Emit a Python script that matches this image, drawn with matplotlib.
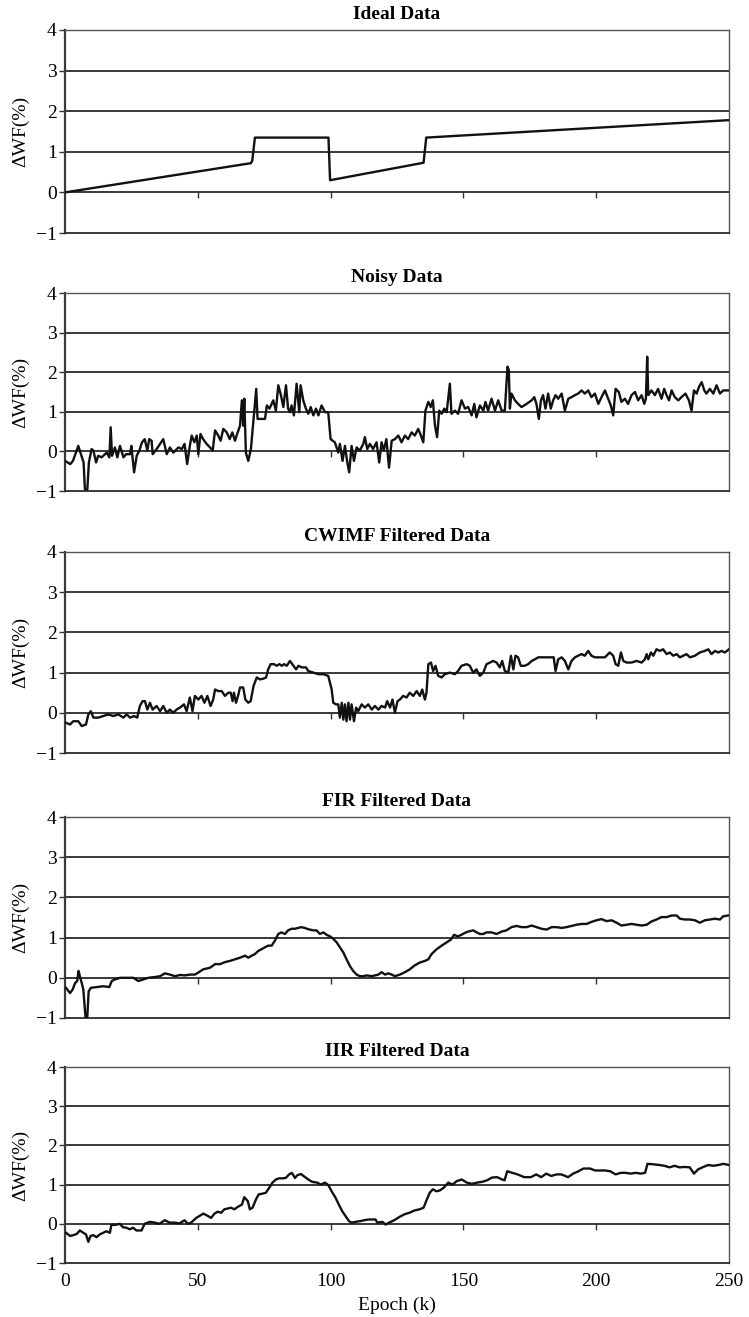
import matplotlib
matplotlib.use("Agg")
import matplotlib.pyplot as plt

plt.rcParams['font.family'] = ['Liberation Serif', 'DejaVu Serif']
plt.rcParams['axes.unicode_minus'] = True

# ---- data (epoch, delta WF %) ----
ideal_x = [0, 70, 70.5, 71.5, 99.2, 99.8, 135, 136, 250]
ideal_y = [0.0, 0.72, 0.78, 1.35, 1.35, 0.30, 0.73, 1.35, 1.78]

noisy_x = [0, 2, 3, 5, 6, 7, 7.5, 8.4, 9, 10, 10.7, 11.7, 12.5, 13.8, 15.7, 16.7, 17.2, 17.7,
           18.8, 19.7, 20.7, 22, 23, 24.5, 25, 26, 27, 28, 29, 30, 31, 31.7, 32.6, 33, 34.5,
           35.8, 37, 38.3, 39.5, 40.8, 42.7, 44, 45, 46, 47, 47.7, 48.7, 49.6, 50.2, 51, 52,
           53.3, 54.6, 55.6, 56.5, 57.7, 58.6, 59.6, 60.9, 62, 63, 64, 64.6, 65.9, 66.6, 67.1,
           67.5, 68.1, 69, 70, 71, 72, 72.5, 73.4, 75.3, 76, 77, 78.4, 79.4, 80.3, 81.3, 82.2,
           83.2, 84, 84.7, 85.3, 86.2, 87.2, 88.2, 88.7, 89.7, 90.7, 91.6, 92.5, 93.5, 94.5,
           95.4, 96.6, 97.9, 99.1, 100, 101.6, 102.9, 103.5, 104.5, 105.4, 106.3, 107, 107.9,
           108.8, 109.8, 111, 112.3, 112.9, 113.8, 114.8, 116, 117.3, 118.3, 119.2, 120, 121,
           122, 123, 124.2, 125.5, 126.7, 128, 129.2, 130.5, 131.7, 133, 134, 134.9, 135.7,
           136.8, 137.7, 138.5, 139.3, 140.1, 140.9, 141.8, 142.8, 143.7, 144.9, 145.5, 146.8,
           148, 149.3, 150.6, 151.8, 153.1, 154.1, 154.9, 156.2, 157.5, 158.3, 159.3, 160.6,
           161.9, 163.1, 164.4, 165.6, 166.6, 167.1, 167.5, 168.1, 169.4, 170.6, 171.9, 173.8,
           175.7, 176.7, 177.5, 178.4, 179.2, 180, 180.9, 181.9, 182.9, 183.8, 184.7, 185.7,
           187, 188.2, 189.5, 190.7, 192, 193.2, 194.5, 195.7, 197, 198.2, 199.5, 200.8, 202,
           203.3, 204.5, 205.5, 206.4, 207.3, 208.5, 209.5, 210.8, 212, 213.3, 214.6, 215.8,
           217.1, 218.1, 218.7, 219.2, 219.6, 220.8, 222.1, 223.3, 224.6, 225.6, 226.5, 227.4,
           228.4, 229.6, 230.9, 232.1, 233.6, 234.9, 235.9, 236.8, 237.8, 238.7, 239.7, 240.7,
           241.5, 242.8, 244.1, 245.3, 246.6, 247.8, 249.7]
noisy_y = [-0.24, -0.32, -0.24, 0.14, -0.07, -0.28, -0.96, -0.96, -0.28, 0.06, 0.02, -0.28,
           -0.11, -0.15, -0.03, -0.15, 0.61, -0.11, 0.10, -0.15, 0.14, -0.15, -0.07, -0.07,
           0.14, -0.53, -0.11, 0.02, 0.23, 0.31, 0.02, 0.31, 0.27, -0.07, 0.06, 0.19, 0.31,
           -0.07, 0.10, -0.03, 0.10, 0.06, 0.19, -0.32, 0.14, 0.40, 0.23, 0.40, -0.07, 0.44,
           0.31, 0.19, 0.10, 0.02, 0.53, 0.40, 0.27, 0.57, 0.48, 0.31, 0.48, 0.27, 0.40, 0.65,
           1.29, 0.65, 1.33, -0.03, -0.24, 0.06, 0.82, 1.58, 0.82, 0.82, 0.82, 1.16, 1.08,
           1.29, 1.03, 1.67, 1.42, 1.12, 1.67, 1.08, 0.99, 1.16, 0.91, 1.71, 0.99, 1.67, 1.29,
           1.08, 0.95, 1.12, 0.91, 1.08, 0.91, 1.16, 0.99, 0.99, 0.31, 0.23, -0.03, 0.19,
           -0.24, 0.14, -0.28, -0.53, 0.14, -0.24, 0.10, 0.02, 0.19, 0.36, 0.06, 0.19, 0.06,
           0.23, -0.28, 0.23, 0.02, 0.31, -0.41, 0.27, 0.31, 0.40, 0.23, 0.40, 0.31, 0.48,
           0.40, 0.57, 0.40, 0.23, 1.03, 1.25, 1.12, 1.29, 0.65, 0.36, 1.03, 0.95, 1.08, 0.99,
           1.71, 0.95, 1.03, 0.95, 1.29, 1.08, 1.12, 0.91, 1.20, 0.86, 1.16, 1.03, 1.25, 1.03,
           1.33, 1.03, 1.29, 1.03, 1.03, 2.14, 2.05, 1.08, 1.46, 1.29, 1.20, 1.12, 1.20, 1.29,
           1.37, 1.20, 0.82, 1.29, 1.42, 1.08, 1.46, 1.08, 1.29, 1.42, 1.33, 1.46, 1.03, 1.33,
           1.37, 1.42, 1.46, 1.54, 1.46, 1.54, 1.37, 1.46, 1.20, 1.37, 1.54, 1.33, 1.16, 0.91,
           1.58, 1.50, 1.25, 1.33, 1.20, 1.42, 1.50, 1.29, 1.42, 1.20, 1.33, 2.39, 1.42, 1.54,
           1.42, 1.58, 1.33, 1.58, 1.42, 1.29, 1.54, 1.37, 1.29, 1.37, 1.46, 1.29, 1.03, 1.54,
           1.46, 1.63, 1.75, 1.54, 1.46, 1.58, 1.46, 1.67, 1.46, 1.54, 1.54]

cwimf_x = [0.4, 1.9, 3.1, 5, 6.3, 7.9, 8.8, 9.7, 10.7, 12.5, 14.4, 16.3, 18.2, 20.1, 22, 23.2,
           24.5, 26, 27.2, 28.2, 29.2, 30.1, 31, 32, 33, 34.5, 35.8, 37, 38.3, 39.5, 40.8, 42,
           43.3, 44.8, 45.8, 47, 48, 48.9, 50.2, 51.4, 52.5, 53.6, 54.8, 55.8, 56.5, 57.7, 59,
           60.2, 61.5, 62.4, 63.1, 63.6, 64.4, 65.3, 65.9, 67.1, 67.9, 69, 69.9, 71, 72.2, 73.4,
           74.7, 75.7, 76.5, 77.4, 78.7, 79.7, 80.7, 81.6, 82.5, 83.5, 84.7, 86, 87, 87.9, 89.1,
           90.7, 91.6, 93.5, 95.4, 97.3, 99.1, 100.4, 101, 102, 102.9, 103.5, 104.2, 104.8,
           105.4, 106, 106.7, 107.3, 107.9, 108.8, 109.6, 110.4, 111.7, 112.9, 114.2, 115.5,
           116.7, 118, 119.2, 120.5, 121.3, 122.4, 123.3, 124.2, 125.2, 126.1, 127.3, 128.6,
           129.8, 131.1, 132.4, 133.6, 134.5, 135.5, 136.1, 136.8, 137.8, 138.6, 139.5, 140.5,
           141.8, 143, 144.9, 146.8, 148, 149.3, 151.2, 152.4, 153.7, 154.9, 156.2, 157.5,
           158.7, 160, 161.2, 162.5, 163.7, 164.6, 165.6, 166.9, 167.9, 168.8, 169.6, 170.6,
           171.6, 173.1, 174.4, 175.7, 176.9, 178.2, 180, 181.9, 183.2, 184, 184.7, 185.7, 187,
           188.2, 189.5, 190.7, 192, 193.2, 194.5, 195.7, 197, 198.2, 199.5, 201.4, 203.3,
           205.1, 206.4, 207.3, 208.3, 209.3, 210.2, 211.4, 213.3, 215.2, 217.1, 218.3, 219,
           219.6, 220.6, 221.5, 222.7, 224, 225.2, 226.5, 227.7, 229, 230.3, 231.5, 232.8, 234,
           235.3, 237.2, 239, 240.9, 242.2, 243.4, 244.7, 245.9, 247.2, 248.4, 250]
cwimf_y = [-0.25, -0.29, -0.21, -0.21, -0.33, -0.29, -0.04, 0.04, -0.12, -0.12, -0.08, -0.04,
           -0.08, -0.04, -0.12, -0.04, -0.12, -0.08, -0.12, 0.17, 0.29, 0.29, 0.08, 0.25, 0.08,
           0.17, 0.04, 0.17, 0.00, 0.08, 0.00, 0.08, 0.13, 0.21, 0.04, 0.38, 0.04, 0.42, 0.33,
           0.42, 0.25, 0.42, 0.17, 0.33, 0.58, 0.54, 0.54, 0.42, 0.50, 0.50, 0.29, 0.50, 0.25,
           0.46, 0.63, 0.63, 0.33, 0.25, 0.29, 0.67, 0.88, 0.83, 0.85, 0.88, 1.08, 1.21, 1.21,
           1.17, 1.21, 1.17, 1.21, 1.17, 1.29, 1.17, 1.08, 1.17, 1.13, 1.13, 1.04, 1.00, 0.96,
           0.96, 0.92, 0.58, 0.25, 0.21, 0.21, -0.12, 0.25, -0.17, 0.21, -0.21, 0.25, -0.17,
           0.21, -0.21, 0.13, 0.04, 0.21, 0.13, 0.21, 0.08, 0.17, 0.08, 0.17, 0.13, 0.29, 0.13,
           0.33, 0.00, 0.29, 0.33, 0.42, 0.38, 0.50, 0.42, 0.54, 0.42, 0.58, 0.33, 0.50, 1.21,
           1.25, 1.04, 1.17, 0.92, 0.88, 0.96, 1.00, 0.96, 1.04, 1.17, 1.21, 1.17, 1.00, 1.08,
           0.92, 1.00, 1.21, 1.25, 1.29, 1.25, 1.13, 1.29, 1.04, 1.00, 1.42, 1.08, 1.42, 1.38,
           1.17, 1.17, 1.21, 1.29, 1.33, 1.38, 1.38, 1.38, 1.38, 1.38, 1.04, 1.33, 1.38, 1.29,
           1.08, 1.29, 1.38, 1.42, 1.46, 1.42, 1.54, 1.42, 1.38, 1.38, 1.38, 1.50, 1.42, 1.21,
           1.17, 1.50, 1.29, 1.25, 1.25, 1.29, 1.25, 1.33, 1.46, 1.33, 1.50, 1.42, 1.58, 1.54,
           1.58, 1.46, 1.50, 1.42, 1.46, 1.38, 1.42, 1.46, 1.38, 1.42, 1.50, 1.54, 1.58, 1.46,
           1.54, 1.50, 1.54, 1.50, 1.58]

fir_x = [0.4, 1.9, 2.9, 3.8, 4.6, 5.1, 5.6, 6.3, 6.9, 7.7, 8.4, 8.9, 9.7, 11.9, 14.4, 16.7,
         17.6, 18.8, 20.7, 23.2, 25.7, 27.6, 29.5, 31.4, 33.9, 35.8, 37.6, 39.5, 41.4, 43.3,
         45.2, 47, 48.9, 50.2, 52, 54.6, 56.5, 58.4, 60.2, 62.1, 64, 65.9, 67.8, 69, 70.3,
         71.5, 72.8, 74, 75.3, 76.5, 77.8, 79, 80.3, 81.5, 82.8, 84, 85.3, 86.5, 87.8, 89,
         90.3, 91.5, 93.5, 94.7, 96, 97.3, 98.5, 99.8, 101, 102.3, 103.5, 104.8, 106, 107.3,
         108.5, 109.8, 111, 112.3, 113.6, 115.5, 116.7, 118, 119.2, 120.5, 121.7, 123, 124.2,
         126.1, 128, 129.8, 131.7, 133.6, 135.5, 136.8, 138, 139.9, 141.8, 143.7, 145.3,
         146.5, 147.8, 149.3, 150.6, 151.8, 153.7, 155, 156.2, 157.5, 158.7, 160.6, 162.5,
         164.4, 166.2, 168.1, 170, 171.9, 173.8, 175.7, 177.5, 179.4, 181.3, 183.2, 185.1,
         187, 188.8, 190.7, 192.6, 194.5, 196.4, 198.2, 200.1, 202, 203.9, 205.8, 207.7,
         209.5, 211.4, 213.3, 215.2, 217.1, 219, 220.8, 222.7, 224.6, 226.5, 228.4, 230.3,
         231.5, 233.4, 235.3, 237.2, 239, 240.9, 242.8, 244.7, 246.6, 247.8, 249.7]
fir_y = [-0.25, -0.38, -0.29, -0.13, -0.08, 0.17, 0.04, -0.13, -0.29, -0.97, -0.97, -0.34,
         -0.25, -0.23, -0.21, -0.23, -0.08, -0.04, 0.00, 0.00, 0.00, -0.08, -0.04, 0.00, 0.02,
         0.04, 0.11, 0.08, 0.04, 0.07, 0.06, 0.08, 0.08, 0.13, 0.21, 0.25, 0.34, 0.34, 0.39,
         0.42, 0.46, 0.50, 0.55, 0.50, 0.55, 0.59, 0.67, 0.71, 0.76, 0.80, 0.80, 0.92, 1.09,
         1.13, 1.09, 1.18, 1.22, 1.22, 1.24, 1.26, 1.24, 1.21, 1.18, 1.18, 1.09, 1.13, 1.07,
         1.03, 0.97, 0.88, 0.76, 0.63, 0.46, 0.29, 0.17, 0.08, 0.04, 0.04, 0.06, 0.04, 0.06,
         0.08, 0.14, 0.08, 0.11, 0.08, 0.04, 0.08, 0.14, 0.21, 0.31, 0.38, 0.42, 0.46, 0.59,
         0.71, 0.80, 0.88, 0.95, 1.07, 1.03, 1.07, 1.12, 1.15, 1.18, 1.13, 1.09, 1.09, 1.13,
         1.13, 1.09, 1.15, 1.18, 1.26, 1.29, 1.26, 1.26, 1.30, 1.26, 1.22, 1.20, 1.26, 1.26,
         1.24, 1.26, 1.29, 1.32, 1.34, 1.34, 1.39, 1.43, 1.46, 1.41, 1.43, 1.37, 1.30, 1.32,
         1.34, 1.32, 1.30, 1.32, 1.40, 1.45, 1.51, 1.51, 1.55, 1.55, 1.47, 1.45, 1.45, 1.43,
         1.37, 1.43, 1.45, 1.47, 1.45, 1.53, 1.55]

iir_x = [0.4, 1.9, 3.1, 4.4, 5.6, 6.9, 7.9, 8.8, 9.6, 10.6, 11.9, 13.1, 14.4, 15.6, 16.9, 17.5,
         18.8, 20.6, 21.9, 23.1, 24.4, 25.6, 26.9, 28.8, 30, 31.9, 33.8, 35.6, 37.5, 39.4,
         41.3, 43.1, 45, 46.3, 47.5, 49.4, 50.6, 52.1, 53.8, 55, 56.3, 57.5, 58.8, 60, 61.3,
         62.5, 63.8, 65, 66.6, 67.5, 68.8, 69.6, 70.6, 71.9, 72.9, 74.4, 75.6, 76.9, 78.1,
         79.4, 80.6, 81.9, 83.1, 84.4, 85.4, 86.6, 87.5, 88.8, 90, 91.6, 93.1, 95, 96.3, 97.9,
         99.1, 100.4, 101.9, 103.1, 104.4, 105.6, 106.9, 107.9, 109.4, 111.3, 112.5, 114.4,
         116.9, 117.6, 119.5, 120.7, 122, 123.9, 125.8, 127.7, 129.6, 131.6, 133.5, 135, 136,
         137.3, 138.5, 139.8, 141.1, 142.6, 144.3, 145.9, 147.5, 149.4, 151.3, 153.2, 155.1,
         157, 158.9, 160.8, 162.7, 164.6, 165.5, 166.5, 168.4, 170.4, 172.9, 175.4, 177.4,
         179.3, 181.2, 183.1, 185, 186.9, 189.4, 191.3, 193.3, 195.2, 197.7, 199.6, 201.5,
         203.4, 205.3, 207.3, 209.2, 211.1, 213, 214.9, 216.8, 218.4, 219.3, 221.2, 223.8,
         225.7, 227.6, 229.5, 231.4, 233.3, 235.2, 236.8, 238.4, 240.3, 242.2, 244.1, 246,
         247.9, 250]
iir_y = [-0.23, -0.31, -0.29, -0.26, -0.17, -0.23, -0.27, -0.46, -0.31, -0.29, -0.34, -0.27,
         -0.23, -0.19, -0.23, -0.02, -0.03, 0.00, -0.09, -0.10, -0.14, -0.10, -0.17, -0.17,
         0.00, 0.05, 0.03, 0.00, 0.09, 0.03, 0.03, 0.01, 0.09, 0.00, 0.03, 0.15, 0.20, 0.26,
         0.20, 0.15, 0.26, 0.31, 0.28, 0.37, 0.39, 0.41, 0.37, 0.43, 0.49, 0.68, 0.58, 0.37,
         0.41, 0.62, 0.75, 0.77, 0.79, 0.92, 1.05, 1.13, 1.16, 1.16, 1.17, 1.26, 1.30, 1.17,
         1.24, 1.27, 1.21, 1.13, 1.07, 1.05, 1.00, 1.05, 0.99, 0.83, 0.66, 0.49, 0.32, 0.20,
         0.07, 0.03, 0.05, 0.07, 0.09, 0.11, 0.11, 0.03, 0.05, -0.02, 0.03, 0.09, 0.17, 0.24,
         0.28, 0.34, 0.37, 0.41, 0.58, 0.79, 0.88, 0.83, 0.85, 0.92, 1.05, 1.00, 1.09, 1.13,
         1.05, 1.02, 1.05, 1.07, 1.11, 1.18, 1.19, 1.13, 1.11, 1.34, 1.30, 1.26, 1.19, 1.19,
         1.26, 1.19, 1.28, 1.22, 1.26, 1.26, 1.19, 1.28, 1.34, 1.41, 1.41, 1.36, 1.36, 1.36,
         1.34, 1.26, 1.30, 1.30, 1.28, 1.30, 1.28, 1.30, 1.53, 1.52, 1.50, 1.48, 1.44, 1.48,
         1.44, 1.45, 1.44, 1.28, 1.39, 1.45, 1.50, 1.48, 1.50, 1.53, 1.50]

titles = ["Ideal Data", "Noisy Data", "CWIMF Filtered Data", "FIR Filtered Data",
          "IIR Filtered Data"]
series = [(ideal_x, ideal_y), (noisy_x, noisy_y), (cwimf_x, cwimf_y), (fir_x, fir_y),
          (iir_x, iir_y)]
y_ticks = [-1, 0, 1, 2, 3, 4]
x_ticks = [0, 50, 100, 150, 200, 250]

# panel extents in pixels (top, bottom)
W, H = 749, 1317
panels = [(30, 233), (293, 491), (552, 753), (817, 1018), (1067, 1263)]
left_px, right_px = 65, 729
FS = 14

fig = plt.figure(figsize=(W / 100, H / 100), dpi=100)

for i, ((top, bot), title, (xs, ys)) in enumerate(zip(panels, titles, series)):
    ax = fig.add_axes([left_px / W, 1 - bot / H, (right_px - left_px) / W, (bot - top) / H])
    ax.set_xlim(0, 250)
    ax.set_ylim(-1, 4)
    for v in y_ticks[1:]:
        ax.axhline(v, color='#2a2a2a', lw=1.3, zorder=1)
    ax.plot(xs, ys, color='#111111', lw=1.7, zorder=3)

    for side in ('top', 'right'):
        ax.spines[side].set_color('#555555')
        ax.spines[side].set_linewidth(1.0)
    ax.spines['left'].set_color('#3a3a3a')
    ax.spines['left'].set_linewidth(1.6)
    ax.spines['bottom'].set_color('#2a2a2a')
    ax.spines['bottom'].set_linewidth(1.3)

    ax.set_yticks(y_ticks)
    ax.tick_params(axis='y', direction='out', length=4, width=1.0, color='#333333',
                   labelsize=FS, pad=2)
    ax.set_ylabel("ΔWF(%)", fontsize=FS, labelpad=5)

    # x axis: tick marks sit on the zero line, labels below the frame
    ax.set_xticks(x_ticks)
    ax.tick_params(axis='x', length=0, labelsize=FS, pad=7)
    sec = ax.secondary_xaxis(0.2)
    sec.set_xticks(x_ticks[1:-1])
    sec.spines['bottom'].set_visible(False)
    sec.tick_params(axis='x', direction='out', length=4, width=1.0, color='#333333',
                    labelbottom=False)
    if i < len(panels) - 1:
        ax.tick_params(axis='x', labelbottom=False)
    else:
        ax.set_xlabel("Epoch (k)", fontsize=FS, labelpad=5)

    ax.set_title(title, fontsize=FS, fontweight='bold', pad=8)

fig.savefig("out.png", dpi=100)
